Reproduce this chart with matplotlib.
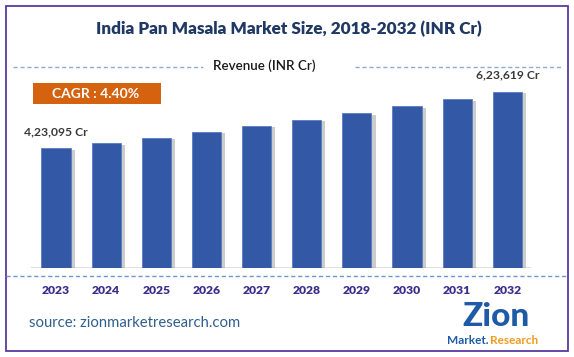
import matplotlib
matplotlib.use("Agg")
import matplotlib.pyplot as plt
import matplotlib.patheffects as pe
from matplotlib.lines import Line2D
from matplotlib.patches import Rectangle

years = ["2023", "2024", "2025", "2026", "2027", "2028", "2029", "2030", "2031", "2032"]
revenue = [423095, 441700, 461100, 481400, 502600, 524700, 547800, 571900, 597100, 623619]
first_label = "4,23,095 Cr"
last_label = "6,23,619 Cr"
cagr_text = "CAGR : 4.40%"

plt.rcParams['font.family'] = ['Lato', 'DejaVu Sans']

W, H = 574, 357
fig = plt.figure(figsize=(W / 100, H / 100), dpi=100)

def fx(px):
    return px / W

def fy(py):
    return 1 - py / H

# plot area: left 31px, right 531px, bottom 268px, top 80px
ax = fig.add_axes([fx(31), fy(268.3), fx(531 - 31), (268.3 - 80) / H])
xs = list(range(len(years)))
bars = ax.bar(xs, revenue, width=0.58, color="#3358a5", edgecolor="#5b7cc0", linewidth=0.6, zorder=3)
for b in bars:
    b.set_path_effects([pe.SimplePatchShadow(offset=(3, -1), shadow_rgbFace="#9a9a9a", alpha=0.5), pe.Normal()])

ax.set_xlim(-0.4986, 9.473)
ax.set_ylim(0, 664700)
ax.axhline(0, color="#d9d9d9", lw=1.2, zorder=2)
for s in ax.spines.values():
    s.set_visible(False)
ax.set_yticks([])
ax.set_xticks(xs)
ax.set_xticklabels(years, fontsize=8.7, fontweight="heavy", color="#3d2d8c")
ax.tick_params(axis="x", length=0, pad=12)

ax.annotate(first_label, (xs[0], revenue[0]), xytext=(0, 8), textcoords="offset points",
            ha="center", va="bottom", fontsize=8.7, fontweight="bold", color="#3a3a3a")
ax.annotate(last_label, (xs[-1], revenue[-1]), xytext=(0, 8), textcoords="offset points",
            ha="center", va="bottom", fontsize=8.7, fontweight="bold", color="#3a3a3a")

# frame
fig.patches.append(Rectangle((fx(6), fy(351)), fx(561.5), (351 - 5.5) / H, transform=fig.transFigure,
                             fill=False, edgecolor="#5a3aa0", lw=1.3))

fig.text(fx(289), fy(29), "India Pan Masala Market Size, 2018-2032 (INR Cr)", ha="center", va="center",
         fontsize=12.3, fontweight="heavy", color="#1f3864")

fig.text(fx(264), fy(66), "Revenue (INR Cr)", ha="center", va="center", fontsize=9.6,
         fontweight="semibold", color="#1a1a1a")
fig.lines.append(Line2D([fx(13), fx(203)], [fy(67), fy(67)], transform=fig.transFigure,
                        color="#8eaadb", lw=1, ls=(0, (3, 2))))
fig.lines.append(Line2D([fx(355), fx(562)], [fy(67), fy(67)], transform=fig.transFigure,
                        color="#8eaadb", lw=1, ls=(0, (3, 2))))
fig.lines.append(Line2D([fx(6), fx(566)], [fy(276), fy(276)], transform=fig.transFigure,
                        color="#6f94d2", lw=1, ls=(0, (3, 2))))

fig.patches.append(Rectangle((fx(33), fy(104)), fx(128), 21 / H, transform=fig.transFigure,
                             facecolor="#d4620f", edgecolor="none"))
fig.text(fx(96), fy(93.5), cagr_text, ha="center", va="center", fontsize=10,
         fontweight="bold", color="white")

fig.text(fx(29), fy(323), "source: zionmarketresearch.com", ha="left", va="center",
         fontsize=10.7, color="#2f5f8f")

# logo
fig.text(fx(496), fy(316), "Zion", ha="center", va="center", fontsize=24, fontweight="black",
         color="#1f5aa6")
fig.text(fx(489), fy(340), "Market.", ha="right", va="center", fontsize=8.5, fontweight="bold",
         color="#1f5aa6")
fig.text(fx(490), fy(340), "Research", ha="left", va="center", fontsize=8.5, fontweight="bold",
         color="#f39a1e")

fig.savefig("out.png", dpi=100)
